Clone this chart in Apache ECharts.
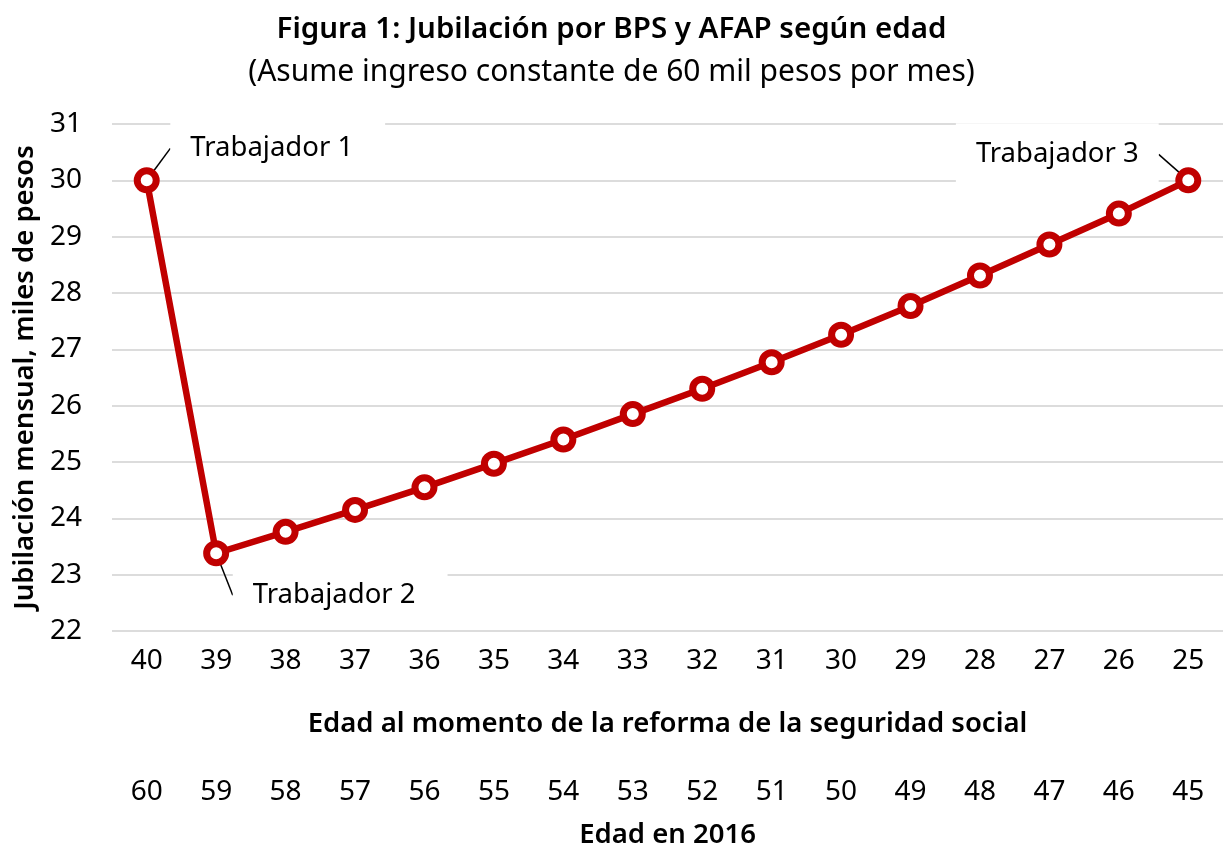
<!DOCTYPE html>
<html>
<head>
<meta charset="utf-8">
<script src="https://cdn.jsdelivr.net/npm/echarts@6/dist/echarts.min.js"></script>
<style>
  html, body { margin: 0; padding: 0; background: #fff; }
  #chart { width: 1223px; height: 846px; }
</style>
</head>
<body>
<div id="chart"></div>
<script>
// edad al momento de la reforma
const edadReforma = ['40', '39', '38', '37', '36', '35', '34', '33', '32', '31', '30', '29', '28', '27', '26', '25'];
// edad en 2016
const edad2016 = ['60', '59', '58', '57', '56', '55', '54', '53', '52', '51', '50', '49', '48', '47', '46', '45'];
// jubilación mensual, miles de pesos
const jubilacion = [30.0, 23.38, 23.76, 24.15, 24.55, 24.97, 25.40, 25.85, 26.30, 26.77, 27.26, 27.77, 28.31, 28.86, 29.41, 30.0];
const etiquetas = { 0: 'Trabajador 1', 1: 'Trabajador 2', 15: 'Trabajador 3' };
const desplaz = { 0: [131, -32], 1: [124, 42], 15: [-131, -26] };
const relleno = { 0: [14, 32, 20, 20], 1: [14, 32, 20, 20], 15: [14, 20, 20, 20] };

const font = 'Noto Sans';
const chart = echarts.init(document.getElementById('chart'));

const data = jubilacion.map((v, i) => {
    if (etiquetas[i]) {
        return {
            value: v,
            label: {
                show: true,
                position: 'inside',
                formatter: etiquetas[i],
                color: '#000',
                fontFamily: font,
                fontSize: 27.5,
                backgroundColor: '#fff',
                padding: relleno[i]
            },
            labelLine: {
                show: true,
                lineStyle: { color: '#000', width: 1.5 }
            }
        };
    }
    return v;
});

chart.setOption({
    backgroundColor: '#fff',
    animation: false,
    title: [{
        text: 'Figura 1: Jubilación por BPS y AFAP según edad',
        left: 'center',
        top: 10,
        textStyle: { fontFamily: font, fontSize: 29.5, fontWeight: 600, color: '#000' }
    }, {
        text: '(Asume ingreso constante de 60 mil pesos por mes)',
        left: 'center',
        top: 52,
        textStyle: { fontFamily: font, fontSize: 30, fontWeight: 'normal', color: '#000' }
    }],
    grid: { left: 112, right: 0, top: 124, bottom: 215, outerBoundsMode: 'none' },
    xAxis: [{
        type: 'category',
        data: edadReforma,
        position: 'bottom',
        axisLine: { show: false },
        axisTick: { show: false },
        axisLabel: { color: '#000', fontFamily: font, fontSize: 28, margin: 16 },
        name: 'Edad al momento de la reforma de la seguridad social',
        nameLocation: 'middle',
        nameGap: 79,
        nameTextStyle: { color: '#000', fontFamily: font, fontSize: 27.5, fontWeight: 600 }
    }, {
        type: 'category',
        data: edad2016,
        position: 'bottom',
        offset: 131,
        axisLine: { show: false },
        axisTick: { show: false },
        axisLabel: { color: '#000', fontFamily: font, fontSize: 28, margin: 16 },
        name: 'Edad en 2016',
        nameLocation: 'middle',
        nameGap: 59,
        nameTextStyle: { color: '#000', fontFamily: font, fontSize: 27.5, fontWeight: 600 }
    }],
    yAxis: {
        type: 'value',
        min: 22,
        max: 31,
        interval: 1,
        axisLine: { show: false },
        axisTick: { show: false },
        axisLabel: { color: '#000', fontFamily: font, fontSize: 28, margin: 30 },
        splitLine: { lineStyle: { color: '#d0d0d0', width: 1.5 } },
        name: 'Jubilación mensual, miles de pesos',
        nameLocation: 'middle',
        nameGap: 68,
        nameTextStyle: { color: '#000', fontFamily: font, fontSize: 27.5, fontWeight: 600 }
    },
    series: [{
        type: 'line',
        xAxisIndex: 0,
        data: data,
        symbol: 'circle',
        symbolSize: 19,
        itemStyle: { color: '#fff', borderColor: '#c00000', borderWidth: 7 },
        lineStyle: { color: '#c00000', width: 6.5 },
        labelLayout: function (p) {
            const d = desplaz[p.dataIndex];
            return d ? { dx: d[0], dy: d[1] } : {};
        }
    }]
});
</script>
</body>
</html>
